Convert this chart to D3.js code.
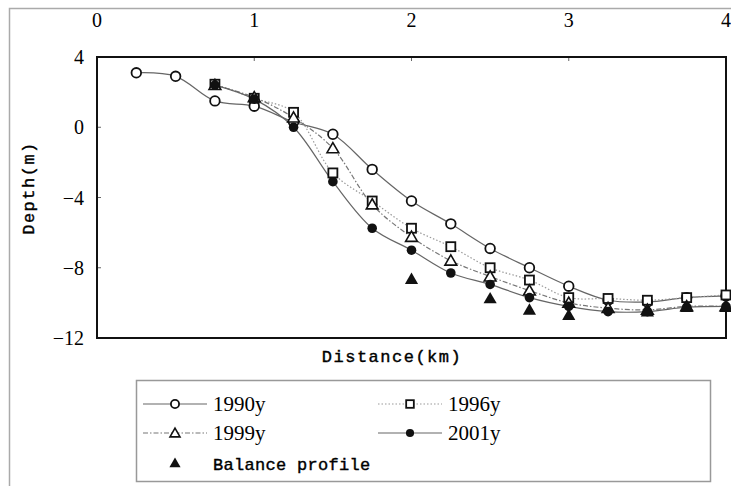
<!DOCTYPE html>
<html>
<head>
<meta charset="utf-8">
<script src="https://cdn.jsdelivr.net/npm/d3@7"></script>
<style>
  body { margin: 0; background: #fff; }
  svg { display: block; }
</style>
</head>
<body>
<div id="chart"></div>
<script>
// x positions (km)
const dist = [0.25, 0.5, 0.75, 1.0, 1.25, 1.5, 1.75, 2.0, 2.25, 2.5, 2.75, 3.0, 3.25, 3.5, 3.75, 4.0];
const xTicks = [0, 1, 2, 3, 4];
const yTicks = [4, 0, -4, -8, -12];

// depth values (m)
const y1990 = [3.1, 2.9, 1.5, 1.2, 0.3, -0.4, -2.4, -4.2, -5.5, -6.9, -8.0, -9.05, -9.85, -9.95, -9.7, -9.6];
const y1996 = [null, null, 2.45, 1.65, 0.85, -2.6, -4.2, -5.75, -6.8, -8.0, -8.7, -9.7, -9.75, -9.85, -9.7, -9.55];
const y1999 = [null, null, 2.4, 1.7, 0.55, -1.2, -4.4, -6.25, -7.6, -8.5, -9.3, -10.0, -10.3, -10.4, -10.2, -10.2];
const y2001 = [null, null, 2.4, 1.6, 0.0, -3.1, -5.75, -7.0, -8.3, -8.95, -9.7, -10.2, -10.5, -10.5, -10.25, -10.2];
const balDist = [2.0, 2.5, 2.75, 3.0, 3.5, 3.75, 4.0];
const balDepth = [-8.65, -9.75, -10.4, -10.7, -10.5, -10.25, -10.25];

const W = 731, H = 486;
const svg = d3.select("#chart").append("svg").attr("width", W).attr("height", H);

// outer frame
svg.append("rect").attr("x", 9.5).attr("y", 8.5).attr("width", 740).attr("height", 500)
  .attr("fill", "none").attr("stroke", "#aaa").attr("stroke-width", 1.5);

const x = d3.scaleLinear().domain([0, 4]).range([97, 726]);
const y = d3.scaleLinear().domain([-12, 4]).range([338, 57]);

const numFont = "'Liberation Serif', serif";
const monoFont = "'Liberation Mono', monospace";

// top axis labels + inner ticks
svg.selectAll(".xt").data(xTicks).enter().append("text")
  .attr("x", d => x(d)).attr("y", 27)
  .attr("text-anchor", "middle").attr("font-family", numFont).attr("font-size", 20)
  .text(d => d);
svg.selectAll(".xtick").data(xTicks.slice(1, 4)).enter().append("line")
  .attr("x1", d => x(d)).attr("x2", d => x(d)).attr("y1", y(4)).attr("y2", y(4) + 4)
  .attr("stroke", "#666").attr("stroke-width", 1);

svg.selectAll(".yt").data(yTicks).enter().append("text")
  .attr("x", 84).attr("y", d => y(d) + 7)
  .attr("text-anchor", "end").attr("font-family", numFont).attr("font-size", 20)
  .text(d => d < 0 ? "\u2212" + Math.abs(d) : d);
svg.selectAll(".ytick").data(yTicks.slice(1, 4)).enter().append("line")
  .attr("x1", x(0)).attr("x2", x(0) + 4).attr("y1", d => y(d)).attr("y2", d => y(d))
  .attr("stroke", "#666").attr("stroke-width", 1);

// plot frame
svg.append("rect").attr("x", x(0)).attr("y", y(4)).attr("width", x(4) - x(0)).attr("height", y(-12) - y(4))
  .attr("fill", "none").attr("stroke", "#111").attr("stroke-width", 2);

// axis titles
svg.append("text").attr("x", 392).attr("y", 362).attr("text-anchor", "middle")
  .attr("font-family", monoFont).attr("font-size", 17).attr("letter-spacing", 1.5)
  .attr("stroke", "#000").attr("stroke-width", 0.4)
  .text("Distance(km)");
svg.append("text").attr("transform", "translate(34,188) rotate(-90)").attr("text-anchor", "middle")
  .attr("font-family", monoFont).attr("font-size", 17).attr("letter-spacing", 1.5)
  .attr("stroke", "#000").attr("stroke-width", 0.4)
  .text("Depth(m)");

const series = [
  { name: "1990y", vals: y1990, dash: null, color: "#666", width: 1.2, marker: "circle" },
  { name: "1996y", vals: y1996, dash: "1.5,2", color: "#999", width: 1.2, marker: "square" },
  { name: "1999y", vals: y1999, dash: "5,2,1.5,2", color: "#777", width: 1.2, marker: "triangle" },
  { name: "2001y", vals: y2001, dash: null, color: "#666", width: 1.2, marker: "dot" }
];

const line = d3.line()
  .defined(d => d[1] !== null)
  .x(d => x(d[0])).y(d => y(d[1]))
  .curve(d3.curveCatmullRom.alpha(0.5));

series.forEach(s => {
  const pts = dist.map((d, i) => [d, s.vals[i]]).filter(p => p[1] !== null);
  svg.append("path").datum(pts).attr("d", line)
    .attr("fill", "none").attr("stroke", s.color).attr("stroke-width", s.width)
    .attr("stroke-dasharray", s.dash);
});

function drawMarker(g, type, cx, cy, small) {
  const k = small ? 0.85 : 1;
  if (type === "circle") {
    g.append("circle").attr("cx", cx).attr("cy", cy).attr("r", 4.8 * k)
      .attr("fill", "#fff").attr("stroke", "#111").attr("stroke-width", 1.8);
  } else if (type === "square") {
    g.append("rect").attr("x", cx - 4.5 * k).attr("y", cy - 4.5 * k).attr("width", 9 * k).attr("height", 9 * k)
      .attr("fill", "#fff").attr("stroke", "#111").attr("stroke-width", 1.8);
  } else if (type === "triangle") {
    g.append("path").attr("d", d3.symbol(d3.symbolTriangle, 60 * k * k)())
      .attr("transform", `translate(${cx},${cy + 1})`)
      .attr("fill", "#fff").attr("stroke", "#111").attr("stroke-width", 1.6);
  } else if (type === "dot") {
    g.append("circle").attr("cx", cx).attr("cy", cy).attr("r", 4.8 * k).attr("fill", "#111");
  } else if (type === "filltri") {
    g.append("path").attr("d", d3.symbol(d3.symbolTriangle, 75 * k * k)())
      .attr("transform", `translate(${cx},${cy + 1})`).attr("fill", "#111");
  }
}

// markers in series order, balance profile last
const marks = svg.append("g");
series.forEach(s => {
  dist.forEach((d, i) => {
    if (s.vals[i] !== null) drawMarker(marks, s.marker, x(d), y(s.vals[i]));
  });
});
balDist.forEach((d, i) => drawMarker(marks, "filltri", x(d), y(balDepth[i])));

// legend
const lg = svg.append("g");
lg.append("rect").attr("x", 136.5).attr("y", 380.5).attr("width", 574).attr("height", 101)
  .attr("fill", "#fff").attr("stroke", "#999").attr("stroke-width", 1.5);

const legendItems = [
  { s: series[0], lx: 143, ty: 404 },
  { s: series[1], lx: 378, ty: 404 },
  { s: series[2], lx: 143, ty: 433 },
  { s: series[3], lx: 378, ty: 433 }
];
legendItems.forEach(it => {
  lg.append("line").attr("x1", it.lx).attr("x2", it.lx + 64).attr("y1", it.ty).attr("y2", it.ty)
    .attr("stroke", it.s.color).attr("stroke-width", it.s.width).attr("stroke-dasharray", it.s.dash);
  drawMarker(lg, it.s.marker, it.lx + 32, it.ty, true);
  lg.append("text").attr("x", it.lx + 70).attr("y", it.ty + 7)
    .attr("font-family", numFont).attr("font-size", 21).text(it.s.name);
});
drawMarker(lg, "filltri", 175, 463, true);
lg.append("text").attr("x", 213).attr("y", 470)
  .attr("font-family", monoFont).attr("font-size", 17).attr("letter-spacing", 0.3)
  .attr("stroke", "#000").attr("stroke-width", 0.4)
  .text("Balance profile");
</script>
</body>
</html>
